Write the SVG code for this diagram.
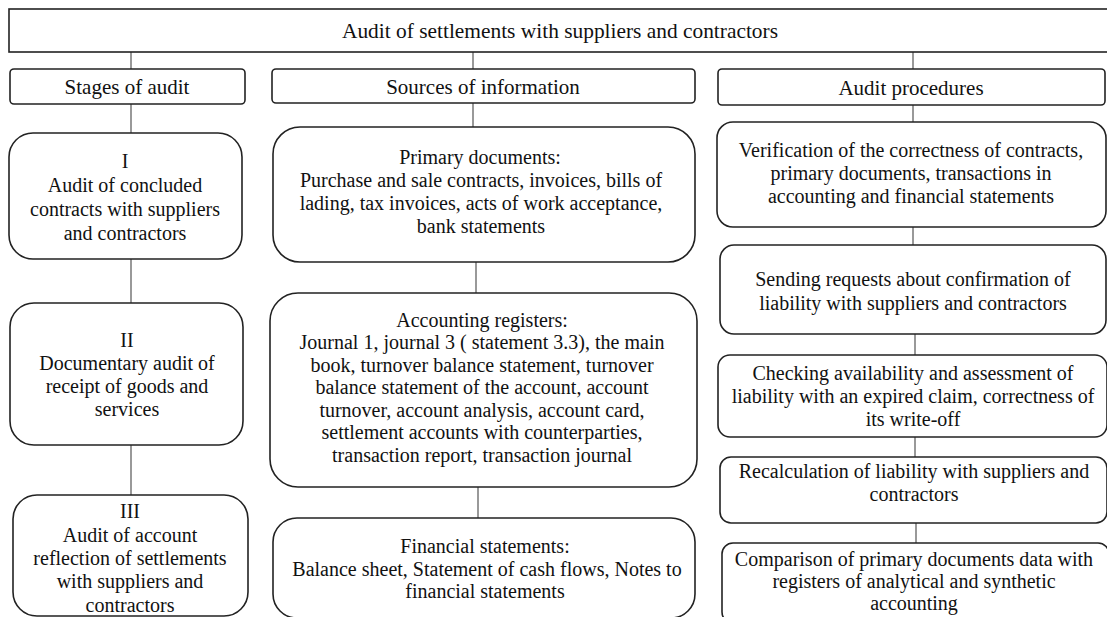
<svg xmlns="http://www.w3.org/2000/svg" width="1107" height="617" viewBox="0 0 1107 617">
<style>
.box{fill:#fff;stroke:#222;stroke-width:1.6}
.con{stroke:#555;stroke-width:1.2;fill:none}
text{font-family:"Liberation Serif","Times New Roman",serif;font-size:20px;fill:#111;text-anchor:middle}
.hd{font-size:21px}
.tt{font-size:21.4px}
</style>
<rect width="1107" height="617" fill="#fff"/>
<g id="connectors">
<line class="con" x1="131" y1="52" x2="131" y2="69"/>
<line class="con" x1="473" y1="52" x2="473" y2="69"/>
<line class="con" x1="913" y1="52" x2="913" y2="69"/>
<line class="con" x1="131" y1="104" x2="131" y2="133"/>
<line class="con" x1="131" y1="259" x2="131" y2="303"/>
<line class="con" x1="131" y1="445" x2="131" y2="495"/>
<line class="con" x1="473" y1="103" x2="473" y2="127"/>
<line class="con" x1="476" y1="262" x2="476" y2="293"/>
<line class="con" x1="478" y1="487" x2="478" y2="518"/>
<line class="con" x1="913" y1="105" x2="913" y2="122"/>
<line class="con" x1="913" y1="227" x2="913" y2="245"/>
<line class="con" x1="915" y1="334" x2="915" y2="355"/>
<line class="con" x1="915" y1="437" x2="915" y2="457"/>
<line class="con" x1="916" y1="523" x2="916" y2="543"/>
</g>
<g id="title">
<rect class="box" x="9" y="9" width="1110" height="43"/>
<text class="tt" x="560" y="38">Audit of settlements with suppliers and contractors</text>
</g>
<g id="stages-header">
<rect class="box" x="10" y="69" width="235" height="35" rx="4"/>
<text class="hd" x="127" y="94">Stages of audit</text>
</g>
<g id="sources-header">
<rect class="box" x="272" y="69" width="423" height="34" rx="4"/>
<text class="hd" x="483" y="94">Sources of information</text>
</g>
<g id="procedures-header">
<rect class="box" x="718" y="69" width="387" height="36" rx="4"/>
<text class="hd" x="911" y="95">Audit procedures</text>
</g>
<g id="stage-1">
<rect class="box" x="9" y="133" width="233" height="126" rx="24"/>
<text x="125" y="168">I</text>
<text x="125" y="192">Audit of concluded</text>
<text x="125" y="216">contracts with suppliers</text>
<text x="125" y="240">and contractors</text>
</g>
<g id="stage-2">
<rect class="box" x="10" y="303" width="233" height="142" rx="24"/>
<text x="127" y="347">II</text>
<text x="127" y="370">Documentary audit of</text>
<text x="127" y="393">receipt of goods and</text>
<text x="127" y="416">services</text>
</g>
<g id="stage-3">
<rect class="box" x="13" y="495" width="235" height="121" rx="24"/>
<text x="130" y="518">III</text>
<text x="130" y="542">Audit of account</text>
<text x="130" y="565">reflection of settlements</text>
<text x="130" y="588">with suppliers and</text>
<text x="130" y="612">contractors</text>
</g>
<g id="primary-documents">
<rect class="box" x="273" y="127" width="422" height="135" rx="27"/>
<text x="480" y="164">Primary documents:</text>
<text x="481" y="187">Purchase and sale contracts, invoices, bills of</text>
<text x="481" y="210">lading, tax invoices, acts of work acceptance,</text>
<text x="481" y="233">bank statements</text>
</g>
<g id="accounting-registers">
<rect class="box" x="270" y="293" width="427" height="194" rx="28"/>
<text x="482" y="327">Accounting registers:</text>
<text x="482" y="349">Journal 1, journal 3 ( statement 3.3), the main</text>
<text x="482" y="372">book, turnover balance statement, turnover</text>
<text x="482" y="394">balance statement of the account, account</text>
<text x="482" y="417">turnover, account analysis, account card,</text>
<text x="482" y="439">settlement accounts with counterparties,</text>
<text x="482" y="462">transaction report, transaction journal</text>
</g>
<g id="financial-statements">
<rect class="box" x="273" y="518" width="422" height="100" rx="24"/>
<text x="485" y="553">Financial statements:</text>
<text x="487" y="576">Balance sheet, Statement of cash flows, Notes to</text>
<text x="485" y="598">financial statements</text>
</g>
<g id="verification">
<rect class="box" x="717" y="122" width="389" height="105" rx="16"/>
<text x="911" y="157">Verification of the correctness of contracts,</text>
<text x="911" y="180">primary documents, transactions in</text>
<text x="911" y="203">accounting and financial statements</text>
</g>
<g id="sending-requests">
<rect class="box" x="720" y="245" width="386" height="89" rx="14"/>
<text x="913" y="286">Sending requests about confirmation of</text>
<text x="913" y="310">liability with suppliers and contractors</text>
</g>
<g id="checking">
<rect class="box" x="718" y="355" width="389" height="82" rx="12"/>
<text x="913" y="380">Checking availability and assessment of</text>
<text x="913" y="403">liability with an expired claim, correctness of</text>
<text x="913" y="426">its write-off</text>
</g>
<g id="recalculation">
<rect class="box" x="720" y="457" width="387" height="66" rx="11"/>
<text x="914" y="478">Recalculation of liability with suppliers and</text>
<text x="914" y="501">contractors</text>
</g>
<g id="comparison">
<rect class="box" x="722" y="543" width="387" height="80" rx="11"/>
<text x="914" y="566">Comparison of primary documents data with</text>
<text x="914" y="588">registers of analytical and synthetic</text>
<text x="914" y="610">accounting</text>
</g>
</svg>
